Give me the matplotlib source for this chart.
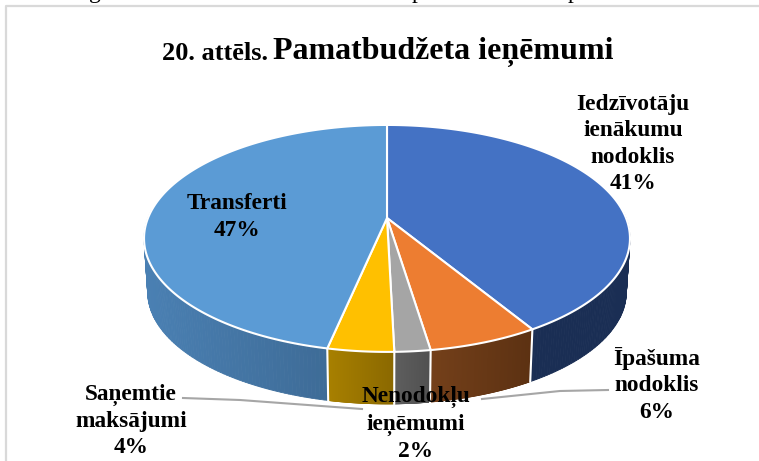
import numpy as np
import matplotlib
matplotlib.use('Agg')
import matplotlib.pyplot as plt
from matplotlib.collections import PolyCollection
from matplotlib.colors import to_rgb

plt.rcParams['font.family'] = ['Liberation Serif', 'DejaVu Serif']

names = ['Iedzīvotāju\nienākumu\nnodoklis', 'Īpašuma\nnodoklis', 'Nenodokļu\nieņēmumi', 'Saņemtie\nmaksājumi', 'Transferti']
shown = ['41%', '6%', '2%', '4%', '47%']
# slice shares, they round to the printed percents
shares = [41.4, 6.2, 2.0, 3.7, 46.7]
top_colors = ['#4472C4', '#ED7D31', '#A5A5A5', '#FFC000', '#5B9BD5']
wall_left = ['#1a2e54', '#74401a', '#5e5e5e', '#a88000', '#4a80b3']
wall_right = ['#1a2e54', '#5c3112', '#505050', '#8a6800', '#3a658e']
label_pos = [(633, 144), (657, 385), (416, 424), (131, 421), (237, 217)]

CX, AY = 387, 218
A, K, B = 239, 109.8, 0.18
DEPTH = 54


def project(t, drop=0, scale=1.0):
    # t clockwise from the top of the pie, tilted circle with perspective
    u, v = np.sin(t), np.cos(t)
    w = 1 + B * v
    return CX + scale * A * u / w, AY + drop - scale * K * v / w


fig = plt.figure(figsize=(7.59, 4.61), dpi=100)
ax = fig.add_axes([0, 0, 1, 1])
ax.set_xlim(0, 759)
ax.set_ylim(461, 0)
ax.axis('off')

# frame of the chart
ax.plot([6, 6, 759], [461, 6.5, 6.5], color='#d9d9d9', lw=1.6, zorder=1)

# bottoms of the letters of the text line cut off above the chart
for letter, lx in zip('gpp', [95, 417, 574]):
    ax.text(lx, -2, letter, ha='center', va='baseline', fontsize=17, color='black', clip_on=False)

edges = np.cumsum([0] + shares) / sum(shares) * 2 * np.pi

# walls first, only the front half of the pie shows them
for i in range(len(shares)):
    t = np.linspace(edges[i], edges[i + 1], 200)
    x0, y0 = project(t)
    x1, y1 = project(t, DEPTH, 0.985)
    quads, cols = [], []
    for j in range(len(t) - 1):
        if np.cos(t[j]) > 0.06:
            continue
        quads.append([(x0[j], y0[j]), (x0[j + 1], y0[j + 1]), (x1[j + 1], y1[j + 1]), (x1[j], y1[j])])
        f = (x0[j] - x0.min()) / max(x0.max() - x0.min(), 1)
        cols.append(np.array(to_rgb(wall_left[i])) * (1 - f) + np.array(to_rgb(wall_right[i])) * f)
    if quads:
        ax.add_collection(PolyCollection(quads, facecolors=cols, edgecolors=cols, lw=0.6, zorder=2))
    # white seam between neighbouring walls
    for e in edges[i:i + 1]:
        if np.cos(e) < 0:
            xa, ya = project(e)
            xb, yb = project(e, DEPTH, 0.985)
            ax.plot([xa, xb], [ya, yb], color='white', lw=1.5, zorder=3)

# top of the pie
for i in range(len(shares)):
    t = np.linspace(edges[i], edges[i + 1], 200)
    x, y = project(t)
    ax.fill(np.r_[CX, x], np.r_[AY, y], facecolor=top_colors[i], edgecolor='white', lw=1.5, zorder=4, joinstyle='round')

# leader lines
ax.plot([183, 240, 362], [398, 400, 409], color='#a6a6a6', lw=1.5, zorder=5)
ax.plot([482, 560, 608], [399, 391, 390], color='#a6a6a6', lw=1.5, zorder=5)

for name, pct, (lx, ly) in zip(names, shown, label_pos):
    ax.text(lx, ly, name + '\n' + pct, ha='center', va='center', fontsize=16.8,
            fontweight='bold', linespacing=1.32, zorder=6)

ax.text(268, 53, '20. attēls.', ha='right', va='center', fontsize=19, fontweight='bold')
ax.text(273, 52, 'Pamatbudžeta ieņēmumi', ha='left', va='center', fontsize=23, fontweight='bold')

fig.savefig('out.png', dpi=100)
